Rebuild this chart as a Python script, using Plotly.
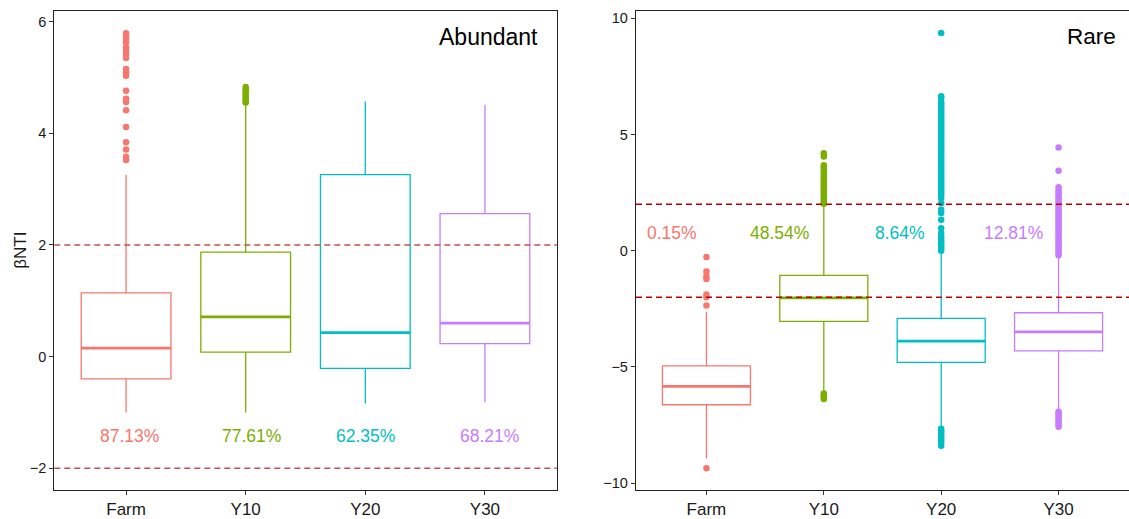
import plotly.graph_objects as go

# ---------------- data ----------------
categories = ["Farm", "Y10", "Y20", "Y30"]
colors = ["#F8766D", "#7CAE00", "#00BFC4", "#C77CFF"]

# Abundant panel box statistics
ab_q1 = [-0.40, 0.08, -0.21, 0.23]
ab_median = [0.15, 0.71, 0.43, 0.60]
ab_q3 = [1.14, 1.87, 3.26, 2.56]
ab_low = [-1.00, -1.00, -0.84, -0.82]
ab_high = [3.25, 4.53, 4.57, 4.51]
ab_out_farm = [5.79, 5.74, 5.69, 5.63, 5.54, 5.48, 5.42, 5.35, 5.15, 5.09, 5.03,
               4.76, 4.62, 4.56, 4.41, 4.11, 3.84, 3.71, 3.58, 3.52]
ab_out_y10 = [4.55, 4.58, 4.62, 4.66, 4.70, 4.74, 4.78, 4.83]
ab_out_y20 = []
ab_out_y30 = []
ab_labels = ["87.13%", "77.61%", "62.35%", "68.21%"]

# Rare panel box statistics
ra_q1 = [-6.63, -3.04, -4.81, -4.31]
ra_median = [-5.84, -2.03, -3.89, -3.49]
ra_q3 = [-4.96, -1.06, -2.91, -2.67]
ra_low = [-8.93, -6.10, -7.60, -6.88]
ra_high = [-2.63, 1.95, -0.10, -0.24]
ra_out_farm = [-0.27, -0.89, -1.10, -1.22, -1.89, -2.00, -2.36, -9.36]
ra_out_y10 = [4.19, 4.05, 3.68, 3.60, 3.50, 3.40, 3.30, 3.20, 3.10, 3.00, 2.90,
              2.80, 2.70, 2.60, 2.50, 2.40, 2.30, 2.20, 2.10, 2.02,
              -6.15, -6.22, -6.30, -6.38]
ra_out_y20 = [9.37, 6.65, 6.58, 6.40, 6.30, 6.20, 6.10, 6.00, 5.90, 5.80, 5.70,
              5.60, 5.50, 5.40, 5.30, 5.20, 5.10, 5.00, 4.90, 4.80, 4.70, 4.60,
              4.50, 4.40, 4.30, 4.20, 4.10, 4.00, 3.90, 3.80, 3.70, 3.60, 3.50,
              3.40, 3.30, 3.20, 3.10, 3.00, 2.90, 2.80, 2.70, 2.60, 2.50, 2.40,
              2.26, 2.04, 1.76, 1.62, 1.33, 0.97, 0.76, 0.60, 0.50, 0.40, 0.30,
              0.20, 0.10, 0.00,
              -7.66, -7.75, -7.85, -7.95, -8.05, -8.15, -8.25, -8.39]
ra_out_y30 = [4.44, 3.44, 2.73, 2.60, 2.50, 2.40, 2.30, 2.20, 2.10, 2.00, 1.90,
              1.80, 1.70, 1.60, 1.50, 1.40, 1.30, 1.20, 1.10, 1.00, 0.90, 0.80,
              0.70, 0.60, 0.50, 0.40, 0.30, 0.20, 0.10, 0.00, -0.10, -0.20,
              -6.93, -7.00, -7.10, -7.20, -7.30, -7.40, -7.50, -7.58]
ra_labels = ["0.15%", "48.54%", "8.64%", "12.81%"]

threshold_values = [-2, 2]

# ---------------- layout constants ----------------
W, H = 1129, 519
FONT = "Liberation Sans, Arial, sans-serif"
BOX_W = 0.75
xpos = [1, 2, 3, 4]
ab_label_x = [1.03, 2.05, 3.0, 4.04]
ab_label_y = -1.42
ra_label_x = [0.71, 1.62, 2.65, 3.62]
ra_label_y = 0.76

fig = go.Figure()


def add_panel(xa, ya, q1, med, q3, lo, hi, outs):
    for i in range(4):
        fig.add_trace(go.Box(
            x=[xpos[i]], q1=[q1[i]], median=[med[i]], q3=[q3[i]],
            lowerfence=[lo[i]], upperfence=[hi[i]],
            width=BOX_W, whiskerwidth=0,
            line=dict(color=colors[i], width=1.3),
            fillcolor="rgba(255,255,255,0)",
            xaxis=xa, yaxis=ya, showlegend=False, hoverinfo="skip"))
        # thicker median line as in ggplot
        fig.add_trace(go.Scatter(
            x=[xpos[i] - BOX_W / 2, xpos[i] + BOX_W / 2], y=[med[i], med[i]],
            mode="lines", line=dict(color=colors[i], width=2.8),
            xaxis=xa, yaxis=ya, showlegend=False, hoverinfo="skip"))
        if outs[i]:
            fig.add_trace(go.Scatter(
                x=[xpos[i]] * len(outs[i]), y=outs[i], mode="markers",
                marker=dict(color=colors[i], size=6.5, line=dict(width=0)),
                xaxis=xa, yaxis=ya, showlegend=False, hoverinfo="skip"))


add_panel("x", "y", ab_q1, ab_median, ab_q3, ab_low, ab_high,
          [ab_out_farm, ab_out_y10, ab_out_y20, ab_out_y30])
add_panel("x2", "y2", ra_q1, ra_median, ra_q3, ra_low, ra_high,
          [ra_out_farm, ra_out_y10, ra_out_y20, ra_out_y30])

ydom = [1 - 491.7 / H, 1 - 10.7 / H]
axis_common = dict(showgrid=False, zeroline=False, ticks="outside", ticklen=4,
                   tickwidth=1, tickcolor="#333333", linecolor="#222222",
                   linewidth=1.3, showline=True)

fig.update_layout(
    width=W, height=H, margin=dict(l=0, r=0, t=0, b=0),
    paper_bgcolor="white", plot_bgcolor="white",
    font=dict(family=FONT, color="#1a1a1a"),
    xaxis=dict(domain=[54.3 / W, 556.7 / W], range=[0.4, 4.6], tickvals=xpos,
               ticktext=categories, mirror=True,
               tickfont=dict(size=17, color="#1a1a1a"), anchor="y", **axis_common),
    yaxis=dict(domain=ydom, range=[-2.387, 6.196], tickvals=[-2, 0, 2, 4, 6],
               ticktext=["\u22122", "0", "2", "4", "6"], mirror=True,
               tickfont=dict(size=14.5, color="#1a1a1a"), anchor="x", **axis_common),
    xaxis2=dict(domain=[636 / W, 1.0], range=[0.4, 4.6], tickvals=xpos,
                ticktext=categories, mirror=True,
                tickfont=dict(size=17, color="#1a1a1a"), anchor="y2", **axis_common),
    yaxis2=dict(domain=ydom, range=[-10.29, 10.33], tickvals=[-10, -5, 0, 5, 10],
                ticktext=["\u221210", "\u22125", "0", "5", "10"], mirror=False,
                tickfont=dict(size=14.5, color="#1a1a1a"), anchor="x2", **axis_common),
)

shapes = []
for v in threshold_values:
    shapes.append(dict(type="line", xref="x domain", yref="y", x0=0, x1=1, y0=v, y1=v,
                       line=dict(color="#C0504D", width=1.5, dash="6px,4px"), layer="above"))
    shapes.append(dict(type="line", xref="x2 domain", yref="y2", x0=0, x1=1, y0=v, y1=v,
                       line=dict(color="#B80000", width=1.5, dash="6px,4px"), layer="above"))
fig.update_layout(shapes=shapes)

ann = []
for i in range(4):
    ann.append(dict(x=ab_label_x[i], y=ab_label_y, xref="x", yref="y", text=ab_labels[i],
                    showarrow=False, font=dict(size=17.5, color=colors[i])))
    ann.append(dict(x=ra_label_x[i], y=ra_label_y, xref="x2", yref="y2", text=ra_labels[i],
                    showarrow=False, font=dict(size=17.5, color=colors[i])))
ann.append(dict(x=4.46, y=5.73, xref="x", yref="y", text="Abundant", showarrow=False,
                xanchor="right", font=dict(size=23, color="black")))
ann.append(dict(x=4.51, y=9.21, xref="x2", yref="y2", text="Rare", showarrow=False,
                xanchor="right", font=dict(size=22.5, color="black")))
ann.append(dict(x=19.7 / W, y=1 - 251 / H, xref="paper", yref="paper", text="\u03b2NTI",
                xanchor="center", yanchor="middle",
                textangle=-90, showarrow=False, font=dict(size=17, color="#1a1a1a")))
fig.update_layout(annotations=ann)

fig.write_html("out.html")
